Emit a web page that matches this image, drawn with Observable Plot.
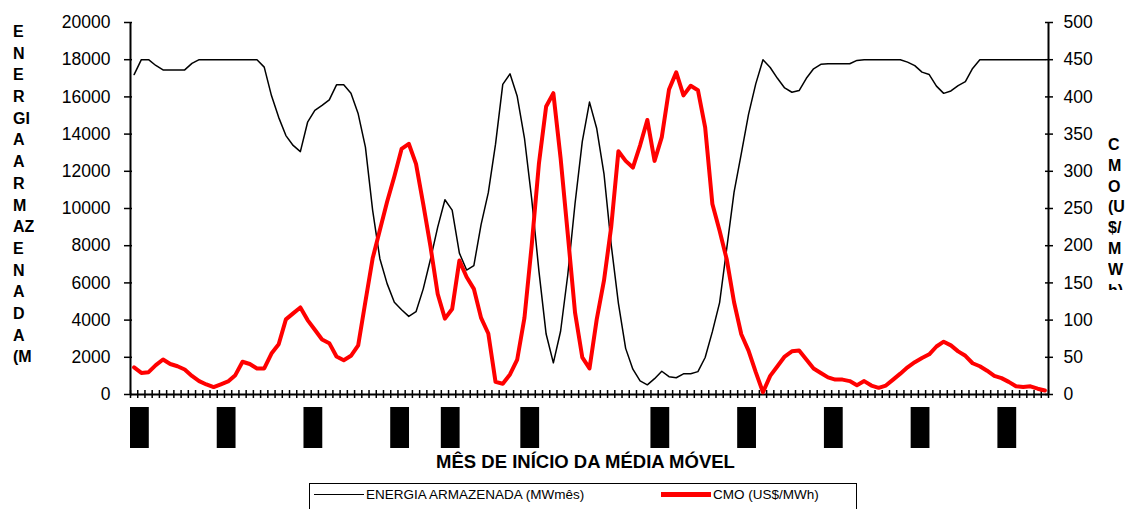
<!DOCTYPE html>
<html lang="pt-BR">
<head>
<meta charset="utf-8">
<title>Energia armazenada e CMO</title>
<script src="https://cdn.jsdelivr.net/npm/d3@7"></script>
<script src="https://cdn.jsdelivr.net/npm/@observablehq/plot@0.6"></script>
<style>
  html, body { margin: 0; padding: 0; background: #fff; }
  #chart { position: relative; width: 1128px; height: 509px; overflow: hidden;
           font-family: "Liberation Sans", Arial, sans-serif; color: #000; background: #fff; }
  #chart svg { display: block; }
  .stack { position: absolute; font-weight: bold; font-size: 16px; white-space: pre; overflow: hidden; }
  .stack div { height: 21.7px; line-height: 21.7px; }
  #titleRight div { height: 20.8px; line-height: 20.8px; }
  #xTitle { position: absolute; left: 0; width: 1171px; top: 451px; text-align: center;
            font-weight: bold; font-size: 18.5px; line-height: 22px; }
  #legend { position: absolute; left: 309px; top: 483px; width: 546px; height: 40px;
            border: 1.5px solid #000; font-size: 13.5px; }
  .key { position: absolute; top: 0; height: 20px; display: flex; align-items: center; }
  .swatch { display: inline-block; width: 50px; }
</style>
</head>
<body>
<div id="chart"></div>
<script>
// Energia armazenada (MWmês) per month of the moving-average start
const energia = [
  17200, 18000, 18000, 17690, 17450, 17450, 17450, 17450, 17800, 18000,
  18000, 18000, 18000, 18000, 18000, 18000, 18000, 18000, 17600, 16070,
  14900, 13920, 13390, 13060, 14640, 15270, 15540, 15840, 16650, 16650,
  16200, 15090, 13300, 9900, 7300, 5960, 4960, 4560, 4200, 4450,
  5680, 7270, 9000, 10470, 9910, 7600, 6690, 6930, 9130, 10850,
  13460, 16670, 17240, 16030, 13790, 10530, 6650, 3250, 1700, 3400,
  6450, 10270, 13600, 15720, 14300, 11880, 8060, 4900, 2480, 1360,
  730, 520, 850, 1250, 960, 900, 1110, 1120, 1230, 1990,
  3380, 4940, 7900, 10880, 12950, 15060, 16700, 18000, 17580, 17000,
  16480, 16250, 16340, 17000, 17510, 17750, 17780, 17780, 17780, 17780,
  17960, 18000, 18000, 18000, 18000, 18000, 18000, 17870, 17680, 17330,
  17200, 16580, 16190, 16320, 16610, 16820, 17530, 18000, 18000, 18000,
  18000, 18000, 18000, 18000, 18000, 18000, 18000
];

// CMO (US$/MWh) for the same months
const cmo = [
  36.5, 29, 30, 39.5, 47, 41, 38, 33.6, 25, 18,
  13.5, 10, 13.7, 17.5, 26, 44, 41, 35, 35, 55,
  67.5, 101, 109, 117, 100, 87, 74, 69, 51, 46,
  52, 66, 125, 183, 221, 259, 293, 330, 337, 310,
  256, 199, 135, 102, 115, 180, 158, 142, 103, 82,
  17, 14.4, 27, 47, 103, 200, 310, 387, 405, 318,
  215, 110, 50, 35, 101, 153, 225, 327, 314, 305,
  335, 369, 314, 346, 410, 433, 402, 415, 409, 359,
  256, 220, 181, 124, 81, 59, 30, 3, 25, 38,
  51, 58, 59, 47, 35, 29, 23, 20, 20, 18,
  12.5, 18, 12, 9, 12, 20, 28, 36.5, 43.5, 49,
  54, 64.5, 71, 66, 58, 52, 42, 38, 32, 25,
  22, 17, 11, 10, 11, 7.8, 5.4
];

// months that carry a category label under the axis
const rotulosMes = [0, 12, 24, 36, 43, 54, 72, 84, 96, 108, 120];

// axis ticks
const ticksEnergia = [0, 2000, 4000, 6000, 8000, 10000, 12000, 14000, 16000, 18000, 20000];
const ticksCmo = [0, 50, 100, 150, 200, 250, 300, 350, 400, 450, 500];

// stacked axis titles (wrapped one or two letters per line)
const tituloEsquerda = ["E", "N", "E", "R", "GI", "A", "A", "R", "M", "AZ", "E", "N", "A", "D", "A", "(M"];
const tituloDireita = ["C", "M", "O", "(U", "$/", "M", "W", "h)"];
const tituloX = "MÊS DE INÍCIO DA MÉDIA MÓVEL";
const legenda = [
  {nome: "ENERGIA ARMAZENADA (MWmês)", cor: "#000000", espessura: 1.5},
  {nome: "CMO (US$/MWh)", cor: "#ff0000", espessura: 5}
];

const n = energia.length;
const meses = d3.range(n);
const fator = 20000 / 500; // right axis (CMO) shares the left axis frame
const xDomain = [-0.5, n - 0.5];
const fonte = "'Liberation Sans', Arial, sans-serif";

const main = Plot.plot({
  width: 1128,
  height: 400,
  marginLeft: 130,
  marginRight: 80,
  marginTop: 22,
  marginBottom: 6,
  style: {fontFamily: fonte, fontSize: "17.5px", color: "#000", background: "#fff", overflow: "visible"},
  x: {domain: xDomain},
  y: {domain: [0, 20000]},
  marks: [
    // category ticks crossing the bottom axis
    Plot.axisX({ticks: d3.range(n + 1).map(k => k - 0.5), tickSize: 8, dy: -4, fill: "none", label: null, strokeWidth: 1.5}),
    // left axis
    Plot.axisY({ticks: ticksEnergia, tickSize: 8, dx: 2, fill: "none", label: null, strokeWidth: 1.5}),
    Plot.axisY({ticks: ticksEnergia, tickSize: 0, tickPadding: 20, label: null, tickFormat: d => String(d)}),
    // right axis
    Plot.axisY({anchor: "right", ticks: ticksCmo.map(v => v * fator), tickSize: 8, dx: -4, fill: "none", label: null, strokeWidth: 1.5}),
    Plot.axisY({anchor: "right", ticks: ticksCmo.map(v => v * fator), tickSize: 0, tickPadding: 15, label: null, tickFormat: d => String(d / fator)}),
    Plot.ruleX([xDomain[0], xDomain[1]], {stroke: "#000", strokeWidth: 2}),
    Plot.ruleY([0], {stroke: "#000", strokeWidth: 2}),
    Plot.line(meses, {x: i => i, y: i => energia[i], stroke: "#000", strokeWidth: 1.5}),
    Plot.line(meses, {x: i => i, y: i => cmo[i] * fator, stroke: "#ff0000", strokeWidth: 4})
  ]
});

// block labels under the category axis
const faixa = Plot.plot({
  width: 1128,
  height: 56,
  marginLeft: 130,
  marginRight: 80,
  marginTop: 7,
  marginBottom: 8,
  style: {background: "#fff"},
  x: {domain: xDomain, axis: null},
  marks: [
    Plot.rect(rotulosMes, {x1: k => k - 0.5, x2: k => k + 2.1, fill: "#000"})
  ]
});

const chart = document.getElementById("chart");
chart.appendChild(main);
chart.appendChild(faixa);

function pilha(id, linhas, left, top, height) {
  const el = document.createElement("div");
  el.className = "stack";
  el.id = id;
  el.style.left = left + "px";
  el.style.top = top + "px";
  if (height) el.style.height = height + "px";
  for (const t of linhas) {
    const d = document.createElement("div");
    d.textContent = t;
    el.appendChild(d);
  }
  chart.appendChild(el);
}
pilha("titleLeft", tituloEsquerda, 13, 21);
// the right title box is shorter than its text, so its last line shows only partly
pilha("titleRight", tituloDireita, 1108, 135, 155);

const xt = document.createElement("div");
xt.id = "xTitle";
xt.textContent = tituloX;
chart.appendChild(xt);

const leg = document.createElement("div");
leg.id = "legend";
const posLeg = [4, 351];
legenda.forEach((s, j) => {
  const k = document.createElement("div");
  k.className = "key";
  k.style.left = posLeg[j] + "px";
  const sw = document.createElement("span");
  sw.className = "swatch";
  sw.style.borderTop = s.espessura + "px solid " + s.cor;
  const tx = document.createElement("span");
  tx.textContent = s.nome;
  tx.style.marginLeft = "2px";
  k.appendChild(sw);
  k.appendChild(tx);
  leg.appendChild(k);
});
chart.appendChild(leg);
</script>
</body>
</html>
